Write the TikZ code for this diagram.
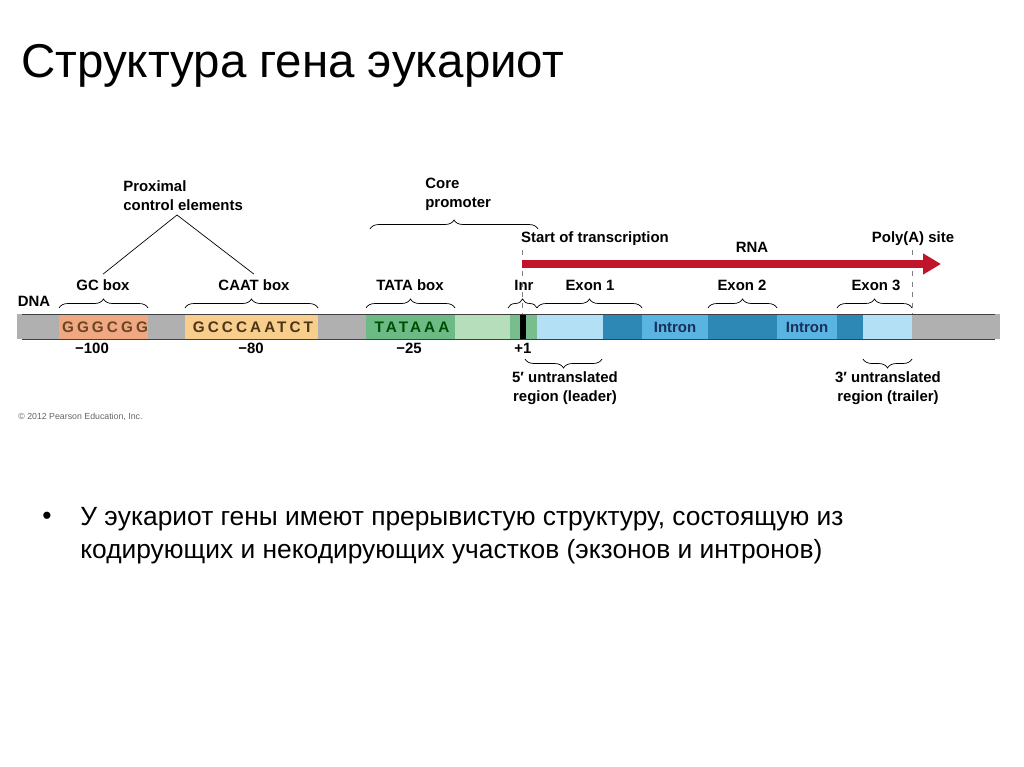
\documentclass[tikz,border=0pt]{standalone}
\usepackage{fontspec}
\setmainfont{Liberation Sans}
\newfontfamily\seqfont[LetterSpace=20]{Liberation Sans Bold}
\usetikzlibrary{positioning,arrows.meta,decorations.pathreplacing}
\definecolor{dnagray}{RGB}{176,176,176}
\definecolor{gcfill}{RGB}{240,168,130}
\definecolor{caatfill}{RGB}{248,206,140}
\definecolor{tatafill}{RGB}{108,186,134}
\definecolor{paleg}{RGB}{182,222,186}
\definecolor{inrfill}{RGB}{120,190,140}
\definecolor{utrfill}{RGB}{180,224,245}
\definecolor{exonfill}{RGB}{46,136,182}
\definecolor{intronfill}{RGB}{90,180,226}
\definecolor{rnared}{RGB}{192,20,42}
\definecolor{introntext}{RGB}{26,47,90}

\begin{document}
\begin{tikzpicture}[
  x=0.02cm, y=-0.02cm,
  lbl/.style={font=\bfseries\fontsize{8.5}{10.8}\selectfont,inner sep=0pt,align=center},
  seq/.style={font=\seqfont\fontsize{8.7}{10}\selectfont,inner sep=0pt},
  brc/.style={decorate,decoration={brace,amplitude=0.18cm},thin},
  brcdown/.style={decorate,decoration={brace,amplitude=0.18cm,mirror},thin},
  siteline/.style={gray,dashed,very thin},
  rna/.style={-{Triangle[length=0.36cm,width=0.4cm]},rnared,line width=0.16cm}
]
\useasboundingbox[fill=white] (0,0) rectangle (1024,767);

% title
\node[anchor=base west,inner sep=0pt,font=\fontsize{27}{32}\selectfont] (title) at (21,78) {Структура гена эукариот};

% DNA bar
\fill[dnagray] (17,314) rectangle (1000,339);
\fill[gcfill] (59,314) rectangle (148,339);
\fill[caatfill] (185,314) rectangle (318,339);
\fill[tatafill] (366,314) rectangle (455,339);
\fill[paleg] (455,314) rectangle (510,339);
\fill[inrfill] (510,314) rectangle (537,339);
\fill[black] (520,314) rectangle (526,339);
\fill[utrfill] (537,314) rectangle (603,339);
\fill[exonfill] (603,314) rectangle (642,339);
\fill[intronfill] (642,314) rectangle (708,339);
\fill[exonfill] (708,314) rectangle (777,339);
\fill[intronfill] (777,314) rectangle (837,339);
\fill[exonfill] (837,314) rectangle (863,339);
\fill[utrfill] (863,314) rectangle (912,339);
\draw[gray!50!black,thin] (22,314) -- (995,314) (22,339) -- (995,339);

% sequences in the bar
\node[seq,text=brown!55!black] (gcseq) at (105,327) {GGGCGG};
\node[seq,text=brown!40!black] (caatseq) at (253,327) {GCCCAATCT};
\node[seq,text=green!30!black] (tataseq) at (412,327) {TATAAA};
\node[lbl,text=introntext] (intron1) at (675,327) {Intron};
\node[lbl,text=introntext] (intron2) at (807,327) {Intron};

% labels above
\node[lbl] (dna) at (34,301) {DNA};
\node[lbl] (gclab) at (103,285) {GC box};
\node[lbl] (caatlab) at (254,285) {CAAT box};
\node[lbl] (tatalab) at (410,285) {TATA box};
\node[lbl] (inrlab) at (524,285) {Inr};
\node[lbl] (ex1lab) at (590,285) {Exon 1};
\node[lbl] (ex2lab) at (742,285) {Exon 2};
\node[lbl] (ex3lab) at (876,285) {Exon 3};

\draw[brc] (59,308) -- (148,308);
\draw[brc] (185,308) -- (318,308);
\draw[brc] (366,308) -- (455,308);
\draw[brc] (508,308) -- (537,308);
\draw[brc] (537,308) -- (642,308);
\draw[brc] (708,308) -- (777,308);
\draw[brc] (837,308) -- (912,308);

% proximal control elements
\node[lbl,align=left,anchor=north west] (prox) at (123,180) {Proximal\\control elements};
\coordinate (apex) at (177,215);
\draw[thin] (apex) -- ([yshift=0.1cm]gclab.north);
\draw[thin] (apex) -- ([yshift=0.1cm]caatlab.north);

% core promoter
\node[lbl,align=left,anchor=north west] (core) at (425,178) {Core\\promoter};
\draw[brc] (370,229) -- (538,229);

% transcription
\node[lbl] (tsslab) at (595,239) {Start of transcription};
\node[lbl] (rnalab) at (752,247) {RNA};
\node[lbl] (polyalab) at (913,239) {Poly(A) site};
\coordinate (tss) at (522,264);
\coordinate (rnaend) at (941,264);
\draw[siteline] (522,250) -- (522,314);
\draw[siteline] (912,250) -- (912,314);
\draw[rna] (tss) -- (rnaend);

% positions below
\node[lbl] (m100) at (92,348) {−100};
\node[lbl] (m80) at (251,348) {−80};
\node[lbl] (m25) at (409,348) {−25};
\node[lbl] (p1) at (523,348) {+1};

% untranslated regions
\draw[brcdown] (525,359) -- (602,359);
\draw[brcdown] (863,359) -- (912,359);
\node[lbl,anchor=north] (utr5) at (565,371) {5′ untranslated\\region (leader)};
\node[lbl,anchor=north] (utr3) at (888,371) {3′ untranslated\\region (trailer)};

\node[anchor=west,inner sep=0pt,font=\fontsize{5}{6}\selectfont,text=gray!80!black] (copy) at (18,417) {\textcopyright{} 2012 Pearson Education, Inc.};

% bullet text
\node[inner sep=0pt,font=\fontsize{15}{18}\selectfont] (bullet) at (47,518) {•};
\node[anchor=north west,inner sep=0pt,align=left,font=\fontsize{15}{19}\selectfont] (body) at (80,507) {У эукариот гены имеют прерывистую структуру, состоящую из\\кодирующих и некодирующих участков (экзонов и интронов)};

\end{tikzpicture}
\end{document}
